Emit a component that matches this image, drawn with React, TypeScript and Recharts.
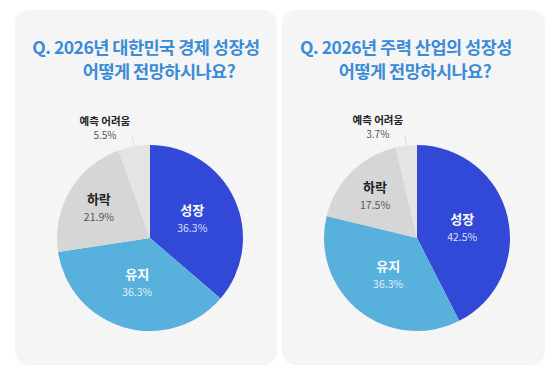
import { PieChart, Pie, Cell } from 'recharts'

const categories = ['성장', '유지', '하락', '예측 어려움']
const economyValues = [36.3, 36.3, 21.9, 5.5]
const industryValues = [42.5, 36.3, 17.5, 3.7]
const economyTitle = ['Q. 2026년 대한민국 경제 성장성', '어떻게 전망하시나요?']
const industryTitle = ['Q. 2026년 주력 산업의 성장성', '어떻게 전망하시나요?']

const COLORS = ['#3149d6', '#58b0dc', '#d6d6d6', '#e4e4e4']
const FONT = '"Noto Sans CJK KR", "Noto Sans", sans-serif'
const RAD = Math.PI / 180

const renderLabel = (props: any) => {
  const { cx, cy, midAngle, outerRadius, index, percent, value } = props
  const name = categories[index]
  const dark = index >= 2
  if (index === 3) {
    // small slice: label sits outside, up and to the left
    const r0 = outerRadius + 1
    const r1 = outerRadius + 12
    const x0 = cx + r0 * Math.cos(-midAngle * RAD)
    const y0 = cy + r0 * Math.sin(-midAngle * RAD)
    const x1 = cx + r1 * Math.cos(-midAngle * RAD)
    const y1 = cy + r1 * Math.sin(-midAngle * RAD)
    const tx = x1 - 27
    return (
      <g>
        <line x1={x0} y1={y0} x2={x1} y2={y1 + 1} stroke="#dcdcdc" strokeWidth={1} />
        <text x={tx} y={y1 - 14} textAnchor="middle" dominantBaseline="central" fill="#222" fontSize={10.5} fontWeight={700} fontFamily={FONT}>
          {name}
        </text>
        <text x={tx} y={y1} textAnchor="middle" dominantBaseline="central" fill="#555" fontSize={10} fontFamily={FONT}>
          {value}%
        </text>
      </g>
    )
  }
  const f = percent > 0.3 ? 0.5 : 0.64
  const r = outerRadius * f
  const x = cx + r * Math.cos(-midAngle * RAD)
  const y = cy + r * Math.sin(-midAngle * RAD)
  return (
    <g>
      <text x={x} y={y - 9} textAnchor="middle" dominantBaseline="central" fill={dark ? '#222' : '#fff'} fontSize={13} fontWeight={700} fontFamily={FONT}>
        {name}
      </text>
      <text x={x} y={y + 9} textAnchor="middle" dominantBaseline="central" fill={dark ? '#555' : 'rgba(255,255,255,0.85)'} fontSize={10.5} fontFamily={FONT}>
        {value}%
      </text>
    </g>
  )
}

const titleStyle = {
  position: 'absolute' as const,
  width: 300,
  textAlign: 'center' as const,
  color: '#3a8cd6',
  fontSize: 17.5,
  fontWeight: 700,
  letterSpacing: -0.5,
  lineHeight: '22px',
  whiteSpace: 'nowrap' as const,
}

function Card({ left, width, title, values, l1, l2 }: any) {
  const data = categories.map((c, i) => ({ name: c, value: values[i] }))
  return (
    <div
      style={{
        position: 'absolute',
        left,
        top: 10,
        width,
        height: 355,
        borderRadius: 14,
        background: '#f5f5f5',
        fontFamily: FONT,
      }}
    >
      <div style={{ ...titleStyle, left: l1 - 150, top: 26 }}>{title[0]}</div>
      <div style={{ ...titleStyle, left: l2 - 150, top: 50 }}>{title[1]}</div>
      <div style={{ position: 'absolute', left: 0, top: 0 }}>
        <PieChart width={width} height={355} margin={{ top: 0, right: 0, bottom: 0, left: 0 }}>
          <Pie
            data={data}
            dataKey="value"
            nameKey="name"
            cx={135}
            cy={228}
            outerRadius={93}
            startAngle={90}
            endAngle={-270}
            stroke="none"
            label={renderLabel}
            labelLine={false}
            isAnimationActive={false}
          >
            {data.map((d, i) => (
              <Cell key={d.name} fill={COLORS[i]} />
            ))}
          </Pie>
        </PieChart>
      </div>
    </div>
  )
}

export default function App() {
  return (
    <div style={{ position: 'absolute', left: 0, top: 0, width: 558, height: 376, background: '#fff' }}>
      <Card left={15} width={262} title={economyTitle} values={economyValues} l1={131} l2={144} />
      <Card left={282} width={263} title={industryTitle} values={industryValues} l1={124} l2={133} />
    </div>
  )
}
